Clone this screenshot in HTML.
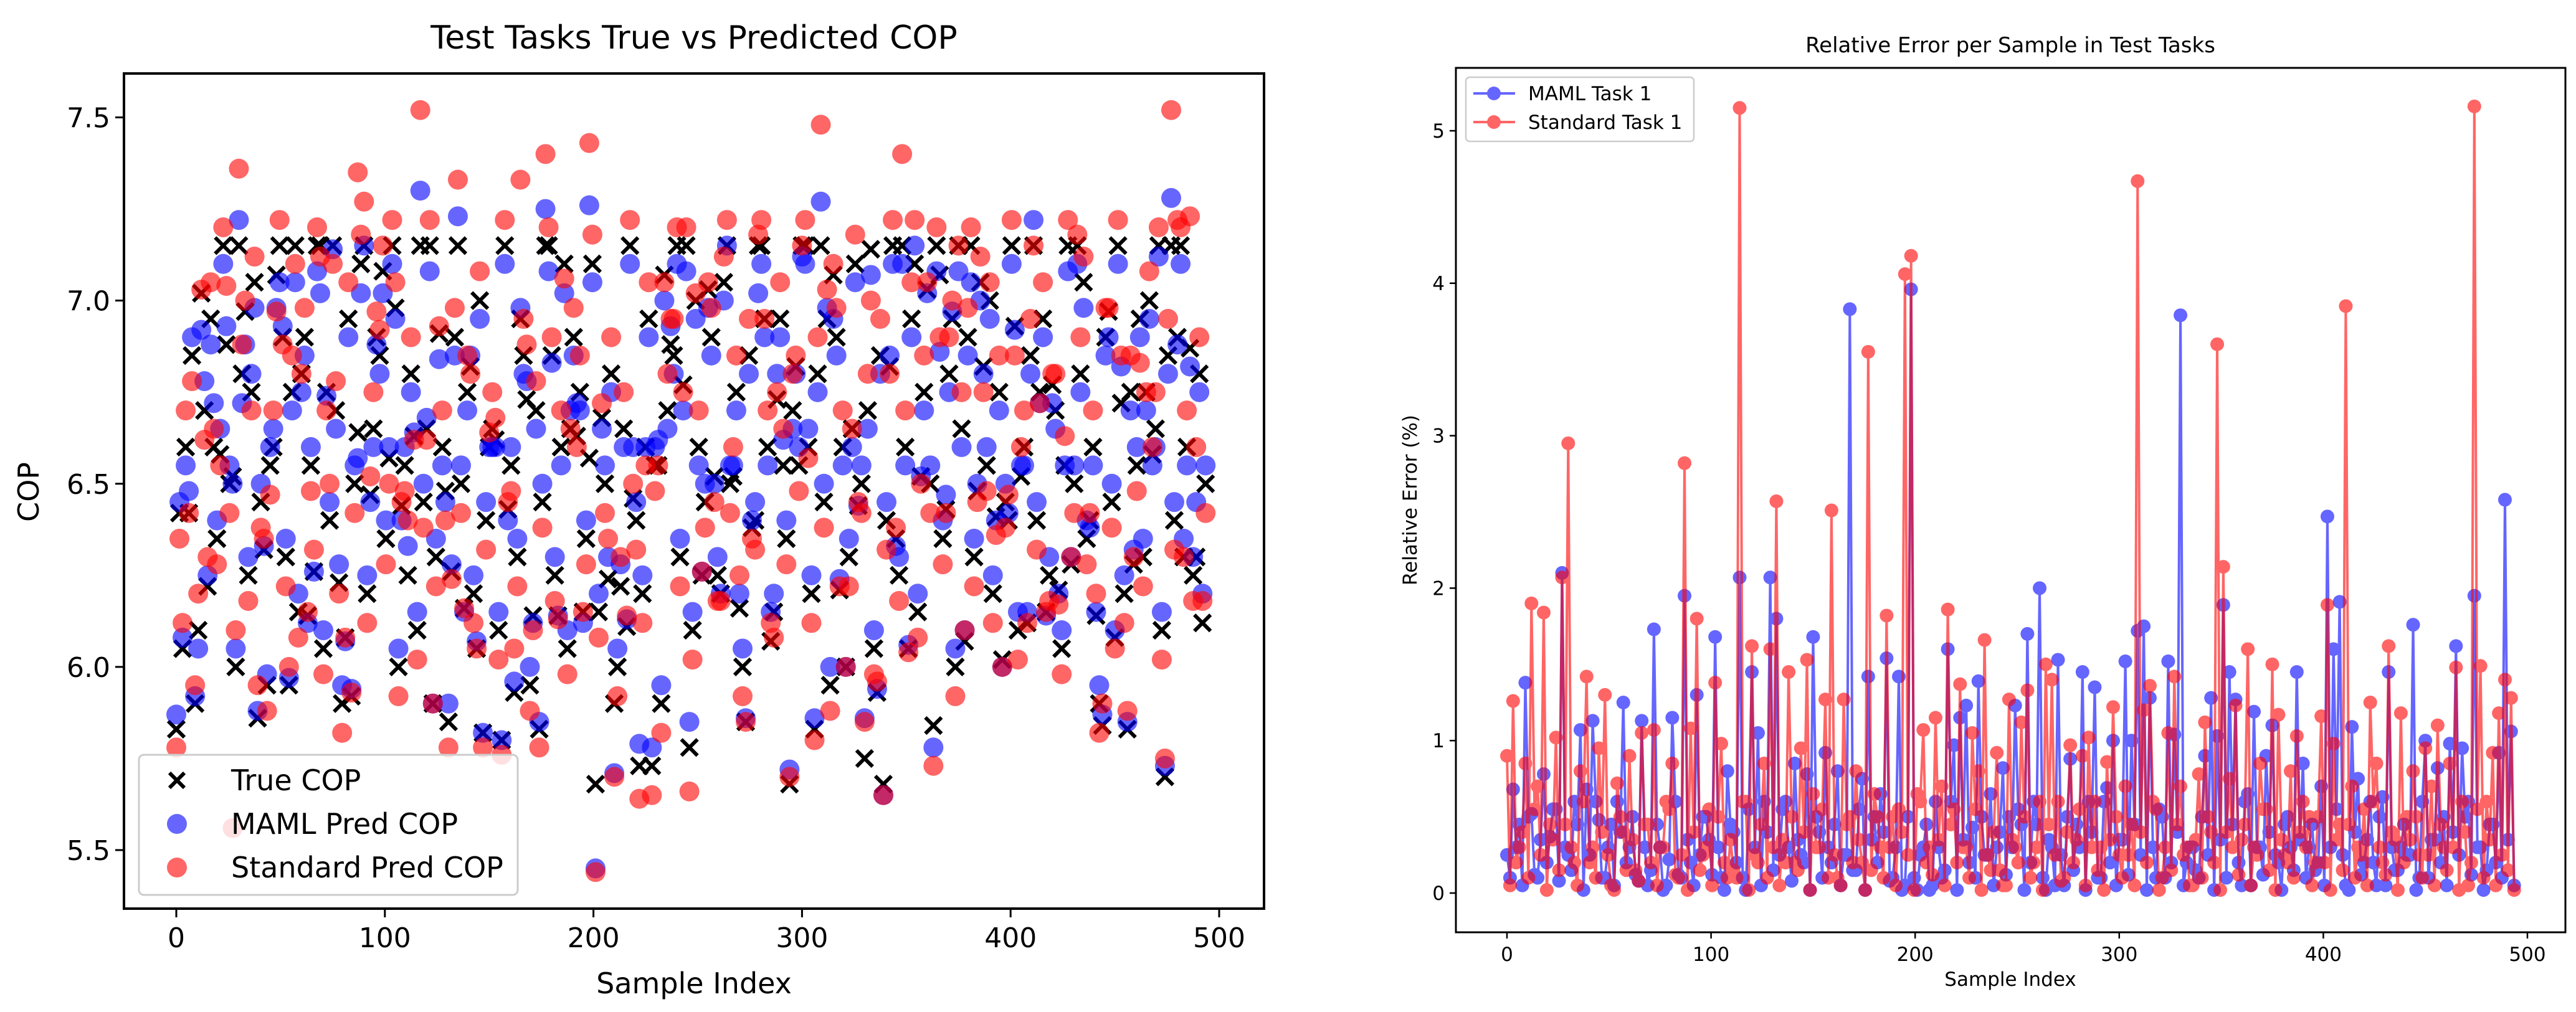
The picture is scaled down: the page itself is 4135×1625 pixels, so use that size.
<!DOCTYPE html>
<html><head><meta charset="utf-8"><style>
html,body{margin:0;padding:0;background:#fff;}
svg{display:block;font-family:"DejaVu Sans","Liberation Sans",sans-serif;}
</style></head><body>
<svg id="fig" width="4135" height="1625" viewBox="0 0 4135 1625" xmlns="http://www.w3.org/2000/svg">
<rect width="4135" height="1625" fill="#fff"/>
<g id="left"></g>
<g id="right"></g>
</svg>
<script>
// ---- Left chart data: set A at index 3i, set B at index 3i+1.5 ----
const leftIdxStep = 3;
const trueCop = [5.83,6.05,6.42,5.9,7.02,6.22,6.6,6.58,6.88,6.52,7.15,6.97,6.75,5.86,6.32,6.55,7.07,6.9,5.95,7.15,6.8,6.14,6.26,7.15,6.75,7.15,6.23,6.08,5.92,6.64,7.15,6.47,6.9,7.08,6.57,6.98,6.44,6.25,6.63,7.15,6.65,5.9,6.91,6.48,6.26,7.15,6.16,6.82,6.05,5.82,6.6,6.62,5.8,6.43,5.93,6.95,6.73,6.14,5.83,7.15,6.85,6.14,7.1,6.65,6.63,6.15,6.57,5.68,6.68,6.24,5.9,6.22,6.11,6.46,5.73,6.6,5.73,6.55,7.07,6.88,7.15,6.77,5.78,7.0,6.25,7.03,6.52,6.2,7.15,6.52,6.16,5.85,6.38,7.15,6.95,6.07,6.73,6.55,5.68,6.82,7.15,6.6,5.83,7.15,6.95,7.07,6.21,6.0,6.65,6.44,5.75,7.14,5.93,5.68,6.82,6.35,7.15,6.05,7.1,6.52,7.03,5.84,7.07,6.43,6.95,7.15,6.07,7.15,6.48,6.82,7.0,6.41,6.02,6.4,6.93,6.52,6.12,7.15,6.75,6.15,6.77,6.21,6.55,6.28,7.15,7.05,6.4,6.14,5.84,6.97,6.08,6.72,5.83,6.28,6.95,6.75,6.58,7.15,5.7,7.15,6.9,6.3,6.87,6.3,6.12];
const mamlCop = [5.87,6.08,6.48,5.92,6.92,6.25,6.72,6.65,6.93,6.5,7.22,6.88,6.8,5.88,6.33,6.6,6.98,6.93,5.97,7.05,6.75,6.12,6.26,7.02,6.74,7.14,6.28,6.07,5.94,6.57,7.15,6.45,6.88,7.02,6.6,6.95,6.4,6.33,6.64,7.3,6.68,5.9,6.84,6.45,6.28,7.23,6.15,6.85,6.07,5.82,6.6,6.6,5.8,6.4,5.96,6.98,6.78,6.12,5.85,7.25,6.83,6.14,7.02,6.7,6.72,6.12,7.26,5.45,6.65,6.3,5.71,6.28,6.13,6.6,5.79,6.6,5.78,6.62,7.0,6.93,7.1,6.7,5.85,6.95,6.26,6.98,6.5,6.2,7.15,6.55,6.2,5.86,6.4,7.02,6.9,6.15,6.8,6.62,5.72,6.8,7.12,6.65,5.86,7.27,6.98,6.95,6.24,6.0,6.6,6.44,5.86,7.07,5.94,5.65,6.85,6.33,7.1,6.06,7.15,6.52,7.02,5.78,6.86,6.47,6.97,7.08,6.1,7.05,6.5,6.8,6.95,6.4,6.0,6.42,6.92,6.55,6.15,7.22,6.72,6.14,6.72,6.2,6.55,6.3,7.1,6.98,6.38,6.15,5.87,6.9,6.1,6.82,5.85,6.32,6.9,6.7,6.55,7.12,5.73,7.28,6.88,6.35,6.82,6.45,6.2];
const stdCop = [5.78,6.12,6.42,5.95,7.03,6.3,6.65,6.55,7.04,5.56,7.36,7.0,6.7,5.95,6.35,6.47,6.97,6.88,6.0,7.1,6.8,6.15,6.32,7.12,6.7,7.1,6.2,6.08,5.93,7.35,7.27,6.52,6.97,7.15,6.5,7.05,6.45,6.4,6.62,7.52,6.62,5.9,6.93,6.4,6.24,7.33,6.16,6.8,6.05,5.78,6.64,6.68,5.76,6.45,6.05,7.33,6.88,6.1,5.78,7.4,6.9,6.13,7.06,6.65,6.6,6.15,7.43,5.44,6.72,6.35,5.7,6.3,6.14,6.5,5.64,6.55,5.65,6.55,7.05,6.95,7.2,6.75,5.66,7.02,6.26,7.05,6.45,6.18,7.22,6.6,6.25,5.85,6.35,7.18,6.95,6.12,6.75,6.65,5.7,6.85,7.15,6.57,5.8,7.48,7.03,7.1,6.22,6.0,6.65,6.45,5.85,7.0,5.96,5.65,6.8,6.38,7.4,6.04,7.22,6.5,7.05,5.73,6.9,6.42,7.0,7.15,6.1,7.2,6.45,6.75,7.05,6.36,6.0,6.47,6.85,6.6,6.12,7.15,6.72,6.15,6.8,6.17,6.63,6.3,7.18,7.12,6.42,6.2,5.9,6.98,6.05,6.85,5.88,6.3,6.83,6.75,6.6,7.2,5.75,7.52,7.22,6.3,7.23,6.6,6.18];
const trueCopB = [6.42,6.6,6.85,6.1,6.7,6.95,6.35,7.15,6.5,6.0,6.8,6.25,7.05,6.45,5.95,6.6,7.15,6.3,6.75,6.15,6.9,6.55,7.15,6.05,6.4,6.7,5.9,6.95,6.5,7.1,6.2,6.65,6.85,6.35,7.15,6.0,6.55,6.8,6.1,6.45,7.15,6.3,6.6,5.85,6.9,6.5,6.75,6.2,7.0,6.4,6.65,6.1,7.15,6.55,6.3,6.85,5.95,6.7,6.45,7.15,6.25,6.6,6.05,6.9,6.75,6.35,7.1,6.15,6.5,6.8,6.0,6.65,7.15,6.4,6.2,6.95,6.55,5.9,6.7,6.85,6.3,7.15,6.1,6.6,6.45,6.9,6.25,7.05,6.5,6.75,6.0,6.85,6.4,7.15,6.6,6.15,6.95,6.35,6.7,6.55,7.15,6.2,6.8,6.45,5.95,6.9,6.6,6.3,7.1,6.5,6.7,6.05,6.85,6.4,7.15,6.25,6.6,6.95,6.15,6.75,6.5,7.15,6.35,6.8,6.0,6.65,6.9,6.3,7.05,6.55,6.2,6.75,6.45,7.15,6.1,6.6,6.85,6.4,6.95,6.25,6.7,6.05,7.15,6.5,6.8,6.35,6.6,5.9,6.9,6.45,7.15,6.2,6.75,6.55,6.3,7.0,6.65,6.1,6.85,6.4,7.15,6.6,6.25,6.8,6.5];
const mamlCopB = [6.45,6.55,6.9,6.05,6.78,6.88,6.4,7.1,6.55,6.05,6.72,6.3,6.98,6.5,5.98,6.65,7.05,6.35,6.7,6.2,6.85,6.6,7.08,6.1,6.45,6.65,5.95,6.9,6.55,7.02,6.25,6.6,6.8,6.4,7.1,6.05,6.6,6.75,6.15,6.5,7.08,6.35,6.55,5.9,6.85,6.55,6.7,6.25,6.95,6.45,6.6,6.15,7.1,6.6,6.35,6.8,6.0,6.65,6.5,7.08,6.3,6.55,6.1,6.85,6.7,6.4,7.05,6.2,6.55,6.75,6.05,6.6,7.1,6.45,6.25,6.9,6.6,5.95,6.65,6.8,6.35,7.08,6.15,6.55,6.5,6.85,6.3,7.0,6.55,6.7,6.05,6.8,6.45,7.1,6.55,6.2,6.9,6.4,6.65,6.6,7.1,6.25,6.75,6.5,6.0,6.85,6.55,6.35,7.05,6.55,6.65,6.1,6.8,6.45,7.1,6.3,6.55,6.9,6.2,6.7,6.55,7.08,6.4,6.75,6.05,6.6,6.85,6.35,7.0,6.6,6.25,6.7,6.5,7.1,6.15,6.55,6.8,6.45,6.9,6.3,6.65,6.1,7.08,6.55,6.75,6.4,6.55,5.95,6.85,6.5,7.1,6.25,6.7,6.6,6.35,6.95,6.6,6.15,6.8,6.45,7.1,6.55,6.3,6.75,6.55];
const stdCopB = [6.35,6.7,6.78,6.2,6.62,7.05,6.28,7.2,6.42,6.1,6.88,6.18,7.12,6.38,5.88,6.7,7.22,6.22,6.85,6.08,6.98,6.48,7.2,5.98,6.5,6.78,5.82,7.05,6.42,7.18,6.12,6.75,6.92,6.28,7.22,5.92,6.48,6.9,6.02,6.38,7.22,6.22,6.7,5.78,6.98,6.42,6.85,6.12,7.08,6.32,6.75,6.02,7.22,6.48,6.22,6.95,5.88,6.78,6.38,7.2,6.18,6.7,5.98,6.98,6.85,6.28,7.18,6.08,6.42,6.9,5.92,6.75,7.22,6.32,6.12,7.05,6.48,5.82,6.8,6.95,6.22,7.2,6.02,6.7,6.38,6.98,6.18,7.12,6.42,6.85,5.92,6.95,6.32,7.22,6.7,6.08,7.05,6.28,6.8,6.48,7.22,6.12,6.9,6.38,5.88,6.98,6.7,6.22,7.18,6.42,6.8,5.98,6.95,6.32,7.22,6.18,6.7,7.05,6.08,6.85,6.42,7.2,6.28,6.9,5.92,6.75,6.98,6.22,7.12,6.48,6.12,6.85,6.38,7.22,6.02,6.7,6.95,6.32,7.05,6.18,6.8,5.98,7.22,6.42,6.9,6.28,6.7,5.82,6.98,6.38,7.22,6.12,6.85,6.48,6.22,7.08,6.75,6.02,6.95,6.32,7.2,6.7,6.18,6.9,6.42];
const leftXTicks = [0,100,200,300,400,500];
const leftYTicks = [5.5,6.0,6.5,7.0,7.5];
const leftYTickLabels = ["5.5","6.0","6.5","7.0","7.5"];

// ---- Right chart data: set A at index 3i, set B at index 3i+1.5 ----
const rightIdxStep = 3;
const mamlErr = [0.25,0.68,0.45,1.38,0.52,0.1,0.78,0.37,0.55,2.1,0.25,0.6,1.07,0.68,1.13,0.48,0.1,0.45,0.6,1.25,0.3,0.12,1.13,0.05,1.73,0.3,0.05,1.15,0.12,1.95,0.2,1.3,0.5,0.35,1.68,0.1,0.8,0.4,2.07,0.02,1.45,1.05,0.6,2.07,1.8,0.55,0.3,0.85,0.25,0.78,1.68,0.4,0.92,0.2,0.8,0.25,3.83,0.15,0.75,1.42,0.5,0.65,1.54,0.1,1.42,0.05,3.96,0.02,0.3,0.02,0.6,0.1,1.6,0.97,1.15,1.23,0.43,1.39,0.25,0.65,0.3,0.82,0.5,1.23,0.45,1.7,0.6,2.0,0.02,0.3,1.53,0.05,0.88,0.45,1.45,0.6,1.35,0.1,0.69,1.0,0.35,1.52,1.0,1.72,1.75,1.28,0.1,0.5,1.52,1.04,3.79,0.2,0.3,0.1,0.9,1.28,1.03,1.89,1.45,1.27,0.05,0.65,1.19,0.3,0.9,1.1,0.2,0.45,0.3,1.45,0.85,0.3,0.15,0.7,2.47,1.6,1.91,0.05,1.09,0.75,0.2,0.6,0.05,0.63,1.45,0.15,0.3,0.25,1.76,0.1,1.0,0.35,0.82,0.5,0.98,1.62,0.95,0.6,1.95,0.3,0.15,0.45,0.92,2.58,1.06];
const stdErr = [0.9,1.26,0.3,0.85,1.9,0.7,1.84,0.45,1.02,2.07,2.95,0.2,0.8,1.42,0.3,0.95,1.3,0.05,0.72,0.4,0.9,0.15,1.05,0.45,1.07,0.3,0.6,0.85,0.1,2.82,1.08,1.8,0.25,0.55,1.38,0.98,0.1,0.15,5.15,0.6,1.62,0.2,0.85,1.6,2.57,0.35,1.45,0.2,0.95,1.53,0.65,0.3,1.27,2.51,0.1,1.27,0.5,0.8,0.2,3.55,0.65,0.3,1.82,0.5,0.55,4.06,4.18,0.65,1.07,0.3,1.15,0.7,1.86,0.55,1.37,0.3,1.05,0.8,1.66,0.15,0.92,0.05,1.27,0.3,1.12,1.33,0.2,0.6,1.5,1.4,0.6,0.1,0.97,0.35,0.9,1.02,0.6,0.3,0.86,1.22,0.25,0.7,0.45,4.67,1.2,1.36,0.55,0.1,1.05,1.42,0.7,0.3,0.05,0.78,1.12,0.4,3.6,2.14,0.75,1.23,0.35,1.6,0.3,0.85,0.55,1.5,1.17,0.25,0.8,1.03,0.6,0.5,0.2,1.16,1.89,0.98,0.45,3.85,0.7,0.3,0.55,1.25,0.85,0.2,1.62,0.35,1.18,0.5,0.8,0.25,0.95,0.7,1.1,0.3,0.85,1.48,0.6,0.05,5.16,1.49,0.6,0.92,1.18,1.4,1.28];
const mamlErrB = [0.1,0.3,0.05,0.5,0.12,0.35,0.2,0.55,0.08,0.3,0.15,0.45,0.02,0.25,0.6,0.1,0.3,0.05,0.4,0.2,0.5,0.08,0.3,0.15,0.45,0.02,0.22,0.6,0.1,0.35,0.05,0.25,0.5,0.12,0.3,0.02,0.45,0.2,0.1,0.55,0.3,0.05,0.4,0.15,0.25,0.6,0.08,0.35,0.2,0.02,0.5,0.1,0.3,0.45,0.05,0.25,0.15,0.55,0.02,0.35,0.2,0.4,0.08,0.3,0.02,0.5,0.1,0.25,0.45,0.05,0.3,0.15,0.6,0.02,0.35,0.2,0.1,0.5,0.25,0.05,0.4,0.12,0.3,0.55,0.02,0.2,0.45,0.1,0.35,0.05,0.25,0.5,0.15,0.3,0.02,0.4,0.1,0.6,0.2,0.05,0.35,0.12,0.45,0.25,0.02,0.3,0.55,0.1,0.2,0.4,0.05,0.3,0.15,0.5,0.25,0.02,0.35,0.1,0.45,0.2,0.6,0.05,0.3,0.12,0.4,0.25,0.02,0.5,0.15,0.35,0.1,0.45,0.2,0.05,0.3,0.55,0.25,0.02,0.4,0.12,0.35,0.2,0.5,0.05,0.3,0.15,0.45,0.25,0.02,0.6,0.1,0.35,0.2,0.05,0.4,0.25,0.5,0.12,0.3,0.02,0.45,0.2,0.1,0.35,0.05];
const stdErrB = [0.05,0.2,0.4,0.1,0.55,0.25,0.02,0.35,0.15,0.45,0.3,0.05,0.6,0.2,0.1,0.4,0.25,0.02,0.5,0.15,0.35,0.08,0.45,0.2,0.05,0.3,0.55,0.12,0.25,0.02,0.4,0.15,0.3,0.05,0.5,0.2,0.35,0.1,0.6,0.02,0.25,0.45,0.1,0.3,0.05,0.2,0.5,0.15,0.4,0.02,0.3,0.55,0.1,0.25,0.05,0.45,0.2,0.35,0.02,0.15,0.5,0.1,0.3,0.05,0.4,0.25,0.02,0.6,0.2,0.12,0.35,0.05,0.45,0.2,0.3,0.1,0.55,0.02,0.25,0.4,0.15,0.05,0.35,0.2,0.5,0.1,0.3,0.02,0.45,0.25,0.08,0.4,0.2,0.55,0.05,0.3,0.15,0.02,0.35,0.5,0.1,0.25,0.05,0.4,0.2,0.6,0.02,0.3,0.15,0.45,0.25,0.05,0.35,0.1,0.5,0.2,0.02,0.4,0.3,0.12,0.45,0.05,0.25,0.55,0.15,0.02,0.35,0.2,0.1,0.4,0.3,0.05,0.5,0.2,0.02,0.35,0.15,0.45,0.1,0.25,0.05,0.6,0.3,0.12,0.4,0.02,0.2,0.35,0.5,0.1,0.25,0.05,0.45,0.15,0.3,0.02,0.4,0.2,0.55,0.1,0.35,0.05,0.25,0.15,0.02];
const rightXTicks = [0,100,200,300,400,500];
const rightYTicks = [0,1,2,3,4,5];

const NS = "http://www.w3.org/2000/svg";
function mk(tag, attrs, parent, text){
  const e = document.createElementNS(NS, tag);
  for (const k in attrs) e.setAttribute(k, attrs[k]);
  if (text !== undefined) e.textContent = text;
  parent.appendChild(e);
  return e;
}
// combine A (index 3i) and B (index 3i+1.5) into ordered [index,value] pairs
function combine(a, b, step){
  const out = [];
  for (let i=0;i<a.length;i++){
    out.push([i*step, a[i]]);
    if (i < b.length) out.push([i*step + step/2, b[i]]);
  }
  return out;
}

// ===== LEFT CHART =====
(function(){
  const g = document.getElementById('left');
  const L=199,R=2029,T=118,B=1459;
  const xS = v => 283 + (v-0)*(1957-283)/500;
  const yS = v => 1365 - (v-5.5)*(1365-188.5)/2.0;
  const fr = mk('rect',{x:L,y:T,width:R-L,height:B-T,fill:'none',stroke:'#000','stroke-width':4},g);
  
  
  leftXTicks.forEach(t=>{
    const x=xS(t);
    const l=mk('line',{x1:x,y1:B,x2:x,y2:B+14,stroke:'#000','stroke-width':3},g);
    
    
    const tx=mk('text',{x:x,y:B+62,'font-size':44,'text-anchor':'middle',fill:'#000'},g,String(t));
    
    
  });
  leftYTicks.forEach((t,i)=>{
    const y=yS(t);
    const l=mk('line',{x1:L-14,y1:y,x2:L,y2:y,stroke:'#000','stroke-width':3},g);
    
    
    const tx=mk('text',{x:L-22,y:y+16,'font-size':44,'text-anchor':'end',fill:'#000'},g,leftYTickLabels[i]);
    
    
  });
  const title=mk('text',{x:1114,y:78,'font-size':52,'text-anchor':'middle',fill:'#000'},g,'Test Tasks True vs Predicted COP');
  
  
  const xl=mk('text',{x:1114,y:1595,'font-size':46,'text-anchor':'middle',fill:'#000'},g,'Sample Index');
  
  
  const yl=mk('text',{x:62,y:790,'font-size':46,'text-anchor':'middle',fill:'#000',transform:'rotate(-90 62 790)'},g,'COP');
  
  

  const marks = mk('g',{},g);
  
  
  function cross(parent,x,y,s,col){
    return mk('path',{d:`M${x-s},${y-s}L${x+s},${y+s}M${x-s},${y+s}L${x+s},${y-s}`,stroke:col,'stroke-width':6,fill:'none'},parent);
  }
  combine(trueCop,trueCopB,leftIdxStep).forEach(([i,v])=>{
    const p=cross(marks,xS(i),yS(v),13,'#000');
    
    
  });
  combine(mamlCop,mamlCopB,leftIdxStep).forEach(([i,v])=>{
    const c=mk('circle',{cx:xS(i),cy:yS(v),r:16,fill:'#0000ff','fill-opacity':0.6},marks);
    
    
  });
  combine(stdCop,stdCopB,leftIdxStep).forEach(([i,v])=>{
    const c=mk('circle',{cx:xS(i),cy:yS(v),r:16,fill:'#ff0000','fill-opacity':0.6},marks);
    
    
  });
  const lg=mk('g',{},g);
  
  
  mk('rect',{x:223,y:1212,width:608,height:225,rx:8,fill:'#fff','fill-opacity':0.8,stroke:'#ccc','stroke-width':3},lg);
  const e1=cross(lg,284,1253,12,'#000');
  
  
  const t1=mk('text',{x:371,y:1269,'font-size':46,fill:'#000'},lg,'True COP');
  
  
  const c2=mk('circle',{cx:284,cy:1323,r:16,fill:'#0000ff','fill-opacity':0.6},lg);
  
  
  const t2=mk('text',{x:371,y:1339,'font-size':46,fill:'#000'},lg,'MAML Pred COP');
  
  
  const c3=mk('circle',{cx:284,cy:1393,r:16,fill:'#ff0000','fill-opacity':0.6},lg);
  
  
  const t3=mk('text',{x:371,y:1409,'font-size':46,fill:'#000'},lg,'Standard Pred COP');
  
  
})();

// ===== RIGHT CHART =====
(function(){
  const g = document.getElementById('right');
  const L=2337,R=4118,T=109,B=1497;
  const xS = v => 2419 + v*(4057-2419)/500;
  const yS = v => 1434 - v*244.8;
  const fr = mk('rect',{x:L,y:T,width:R-L,height:B-T,fill:'none',stroke:'#000','stroke-width':3},g);
  
  
  rightXTicks.forEach(t=>{
    const x=xS(t);
    const l=mk('line',{x1:x,y1:B,x2:x,y2:B+10,stroke:'#000','stroke-width':2.5},g);
    
    
    const tx=mk('text',{x:x,y:B+46,'font-size':31,'text-anchor':'middle',fill:'#000'},g,String(t));
    
    
  });
  rightYTicks.forEach(t=>{
    const y=yS(t);
    const l=mk('line',{x1:L-10,y1:y,x2:L,y2:y,stroke:'#000','stroke-width':2.5},g);
    
    
    const tx=mk('text',{x:L-18,y:y+11,'font-size':31,'text-anchor':'end',fill:'#000'},g,String(t));
    
    
  });
  const title=mk('text',{x:3227,y:84,'font-size':34,'text-anchor':'middle',fill:'#000'},g,'Relative Error per Sample in Test Tasks');
  
  
  const xl=mk('text',{x:3227,y:1583,'font-size':31,'text-anchor':'middle',fill:'#000'},g,'Sample Index');
  
  
  const yl=mk('text',{x:2274,y:803,'font-size':31,'text-anchor':'middle',fill:'#000',transform:'rotate(-90 2274 803)'},g,'Relative Error (%)');
  
  

  function series(a,b,col,name){
    const pts=combine(a,b,rightIdxStep);
    const sg=mk('g',{opacity:0.6},g);
    
    
    const pl=mk('polyline',{points:pts.map(([i,v])=>xS(i)+','+yS(v)).join(' '),fill:'none',stroke:col,'stroke-width':4,'stroke-linejoin':'round'},sg);
    
    
    pts.forEach(([i,v])=>{
      const c=mk('circle',{cx:xS(i),cy:yS(v),r:11,fill:col},sg);
      
      
    });
  }
  series(mamlErr,mamlErrB,'#0000ff','maml-task-1');
  series(stdErr,stdErrB,'#ff0000','standard-task-1');

  const lg=mk('g',{},g);
  
  
  mk('rect',{x:2353,y:124,width:366,height:103,rx:6,fill:'#fff','fill-opacity':0.8,stroke:'#ccc','stroke-width':2.5},lg);
  const la=mk('g',{opacity:0.6},lg);
  mk('line',{x1:2365,y1:150,x2:2432,y2:150,stroke:'#0000ff','stroke-width':4},la);
  mk('circle',{cx:2398,cy:150,r:11,fill:'#0000ff'},la);
  mk('line',{x1:2365,y1:196,x2:2432,y2:196,stroke:'#ff0000','stroke-width':4},la);
  mk('circle',{cx:2398,cy:196,r:11,fill:'#ff0000'},la);
  const t1=mk('text',{x:2453,y:161,'font-size':31,fill:'#000'},lg,'MAML Task 1');
  
  
  const t2=mk('text',{x:2453,y:207,'font-size':31,fill:'#000'},lg,'Standard Task 1');
  
  
})();
</script>
</body></html>
